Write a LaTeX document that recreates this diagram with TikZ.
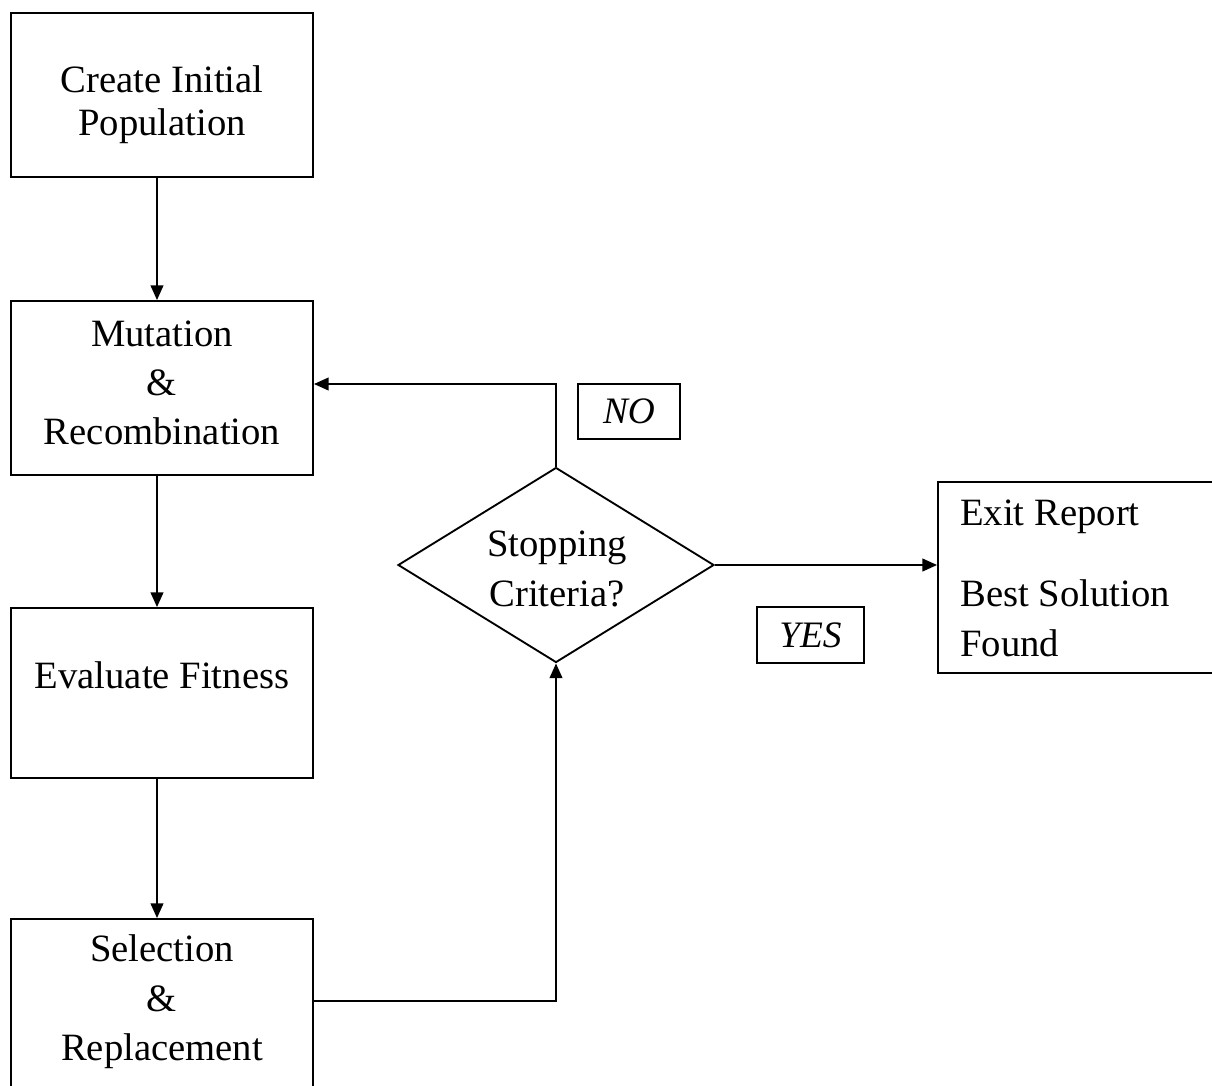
\documentclass[tikz,border=0pt]{standalone}
\usepackage{fontspec}
\setmainfont{Liberation Serif}
\usetikzlibrary{shapes.geometric,arrows.meta}
\begin{document}
\begin{tikzpicture}[x=0.75pt,y=-0.75pt,
  box/.style={draw,line width=1.4pt,rectangle,minimum width=226.5pt,inner sep=0pt},
  tag/.style={draw,line width=1.2pt,rectangle,inner sep=0pt,font=\fontsize{28}{33}\selectfont\itshape},
  txt/.style={font=\fontsize{29}{33}\selectfont,align=center,inner sep=0pt},
  conn/.style={line width=1.4pt},
  arr/.style={conn,-{Triangle[length=11pt,width=9.5pt]}}]
\useasboundingbox (0,0) rectangle (1212,1085);
\clip (0,0) rectangle (1212,1085);
% boxes
\node[box,minimum height=123pt] (b1) at (162,95) {};
\node[box,minimum height=130.5pt] (b2) at (162,388) {};
\node[box,minimum height=127.5pt] (b3) at (162,693) {};
\node[box,minimum height=135pt] (b4) at (162,1009) {};
\node[draw,line width=1.4pt,rectangle,inner sep=0pt,minimum width=219pt,minimum height=143.25pt] (ex) at (1084,577.5) {};
\node[draw,line width=1.4pt,diamond,shape aspect=1.62,inner sep=0pt,minimum width=237pt,minimum height=146.25pt] (dia) at (556,565) {};
% texts
\node[txt] (t1) at (162,105) {Create Initial\\[-1pt]Population};
\node[txt] (t2) at (162,383) {Mutation\\[4pt]\&\\[4pt]Recombination};
\node[txt] (t3) at (162,675) {Evaluate Fitness};
\node[txt] (t4) at (162,1002) {Selection\\[4pt]\&\\[4pt]Replacement};
\node[txt] (t5) at (557,569) {Stopping\\[4pt]Criteria?};
\node[txt,anchor=west] (e1) at (960,517) {Exit Report};
\node[txt,anchor=west] (e2) at (960,593) {Best Solution};
\node[txt,anchor=west] (e3) at (960,643) {Found};
% labels
\node[tag,minimum width=76.5pt,minimum height=41.25pt] (no) at (629,411.5) {NO\hspace{6pt}};
\node[tag,minimum width=80.25pt,minimum height=42pt] (yes) at (810.5,635) {YES};
% connectors
\coordinate (ax) at (157,0);
\draw[arr] (b1.south -| ax) -- (b2.north -| ax);
\draw[arr] (b2.south -| ax) -- (b3.north -| ax);
\draw[arr] (b3.south -| ax) -- (b4.north -| ax);
\draw[arr] (b4.east |- 0,1001) -| (dia.south);
\draw[arr] (dia.north) -- (dia.north |- 0,384) -- (b2.east |- 0,384);
\draw[arr] (dia.east) -- (ex.west |- dia.east);
\end{tikzpicture}
\end{document}
